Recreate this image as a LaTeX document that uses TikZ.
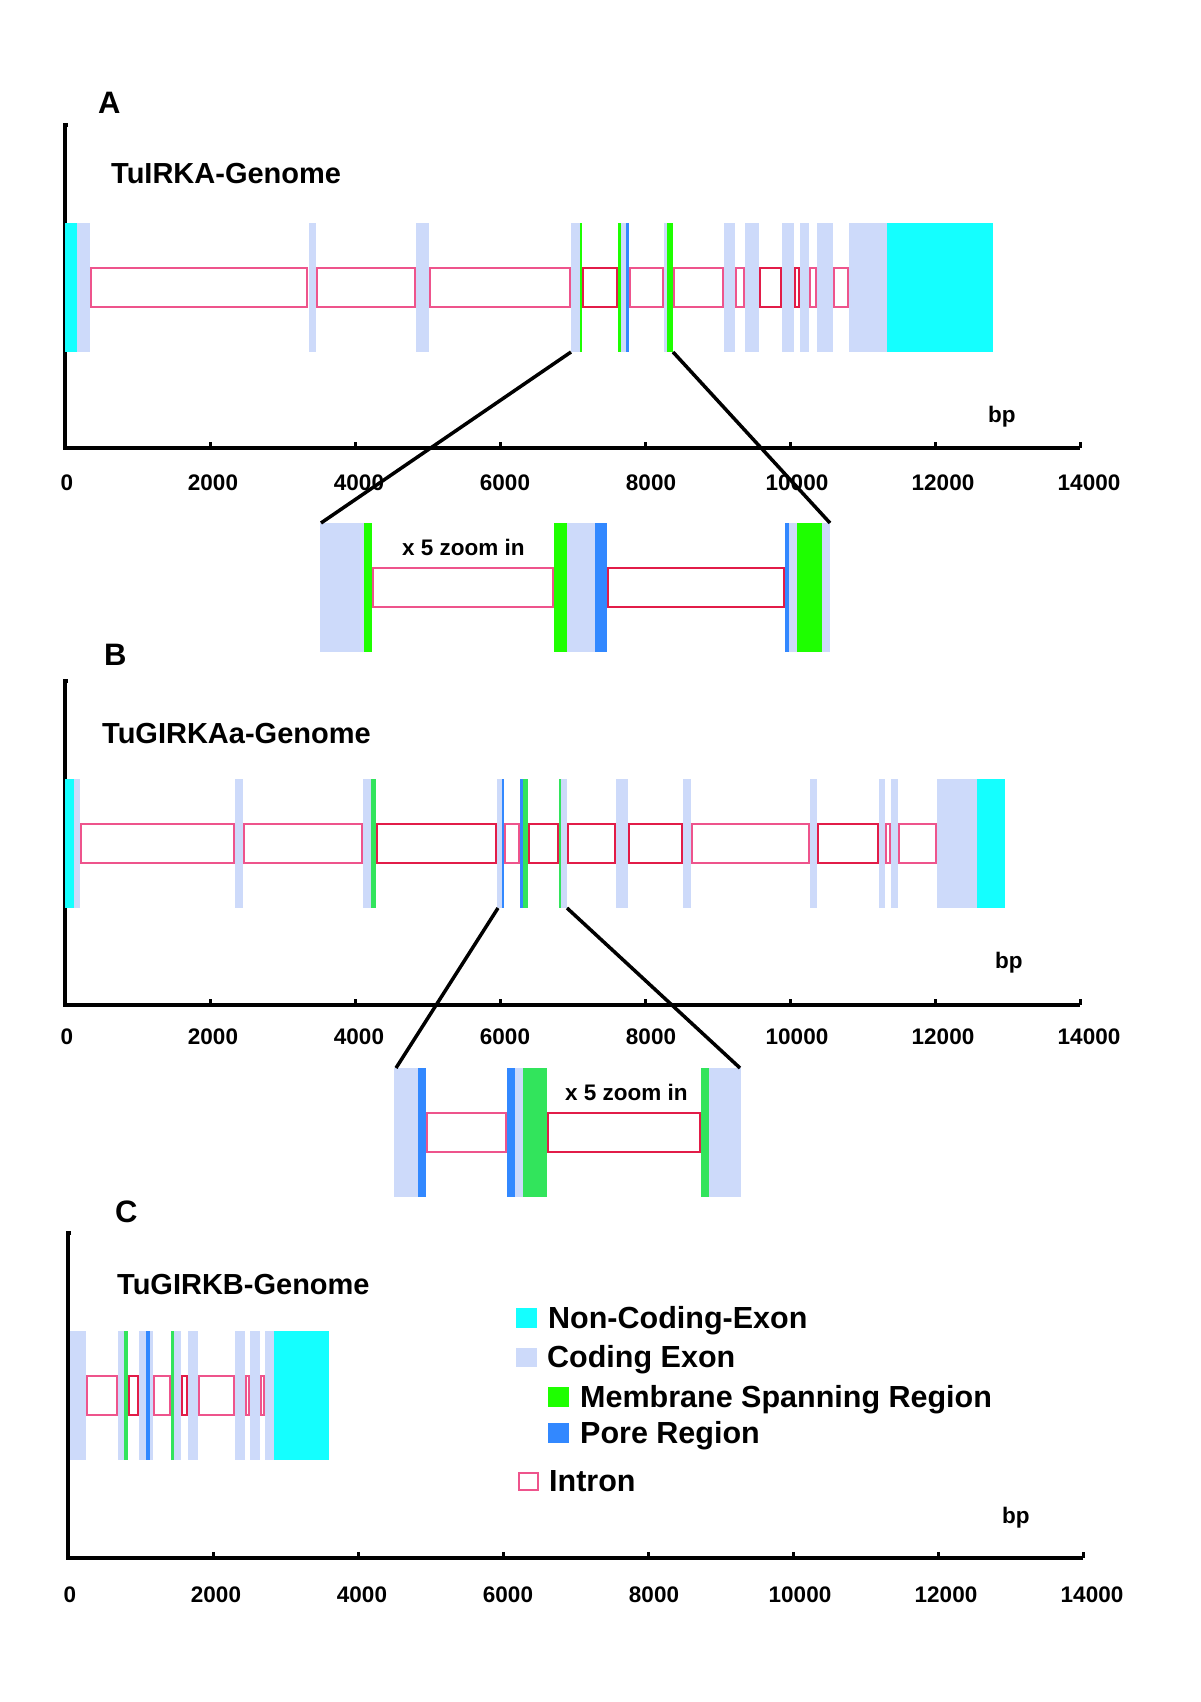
\documentclass[tikz,border=0pt]{standalone}
\usepackage{fontspec}
\setmainfont{Liberation Sans}
\definecolor{ncx}{RGB}{20,255,255}
\definecolor{cdx}{RGB}{205,218,250}
\definecolor{msr}{RGB}{30,255,0}
\definecolor{msrb}{RGB}{50,228,92}
\definecolor{pore}{RGB}{50,136,255}
\definecolor{intc}{RGB}{238,84,140}
\definecolor{intd}{RGB}{226,28,72}
\tikzset{axis/.style={line width=4pt},tk/.style={line width=3pt},zline/.style={line width=3.5pt},
  intr/.style={draw=intc,line width=2pt,fill=white},dk/.style={draw=intd},
  panel/.style={inner sep=0,anchor=base west,font=\fontsize{31}{36}\selectfont\bfseries},
  title/.style={inner sep=0,anchor=base west,font=\fontsize{29}{34}\selectfont\bfseries},
  leg/.style={inner sep=0,anchor=base west,font=\fontsize{30.5}{35}\selectfont\bfseries},
  num/.style={inner sep=0,anchor=base,font=\fontsize{22.5}{26}\selectfont\bfseries},
  small/.style={inner sep=0,anchor=base west,font=\fontsize{22.5}{26}\selectfont\bfseries}}
\newcommand{\ex}[3]{\fill[#1] (#2,0) rectangle (#3,129);}
\newcommand{\intron}[3][]{\draw[intr,#1] (#2+1,45) rectangle (#3-1,84);}
\newcommand{\bpaxis}[4]{\draw[axis] (#1+3,#2)--(#1,#2)--(#1,#3)--(#1+1015,#3);
  \foreach \k in {1,...,7}\draw[tk] (#1+145*\k,#3)--++(0,-6);
  \foreach \k/\v in {0/0,1/2000,2/4000,3/6000,4/8000,5/10000,6/12000,7/14000}\node[num] at (#1+2+146*\k,#4){\v};}

\begin{document}
\begin{tikzpicture}[x=1pt,y=-1pt]
\useasboundingbox[fill=white] (0,0) rectangle (1200,1702);
\node[panel] (pA) at (98,113){A};
\node[title] (tA) at (111,183){TuIRKA-Genome};
\bpaxis{65}{125}{448}{490}
\node[small] (bpA) at (988,422){bp};
\begin{scope}[shift={(0,223)}]
\ex{ncx}{65}{77}\ex{cdx}{77}{90}\intron{90}{308}\ex{cdx}{309}{316}\intron{316}{416}\ex{cdx}{416}{429}\intron{429}{571}
\ex{cdx}{571}{580}\ex{msr}{580}{582}\intron[dk]{582}{618}\ex{msr}{618}{621}\ex{cdx}{621}{626}\ex{pore}{626}{629}\intron{629}{664}
\ex{cdx}{664}{667}\ex{msr}{667}{673}\intron{673}{724}\ex{cdx}{724}{735}\intron{735}{745}\ex{cdx}{745}{759}\intron[dk]{759}{782}
\ex{cdx}{782}{794}\intron[dk]{794}{800}\ex{cdx}{800}{809}\intron{809}{817}\ex{cdx}{817}{833}\intron{833}{849}\ex{cdx}{849}{887}\ex{ncx}{887}{993}
\end{scope}
\begin{scope}[shift={(0,523)}]
\ex{cdx}{320}{364}\ex{msr}{364}{372}\intron{372}{554}\ex{msr}{554}{567}\ex{cdx}{567}{595}\ex{pore}{595}{607}\intron[dk]{607}{785}
\ex{pore}{785}{789}\ex{cdx}{789}{797}\ex{msr}{797}{822}\ex{cdx}{822}{830}
\end{scope}
\node[small] (zA) at (402,555){x 5 zoom in};
\coordinate (aL) at (571,352);\coordinate (aLz) at (321,523);
\coordinate (aR) at (673,352);\coordinate (aRz) at (830,523);
\draw[zline] (aL)--(aLz);\draw[zline] (aR)--(aRz);

\node[panel] (pB) at (104,665){B};
\node[title] (tB) at (102,743){TuGIRKAa-Genome};
\bpaxis{65}{681}{1005}{1044}
\node[small] (bpB) at (995,968){bp};
\begin{scope}[shift={(0,779)}]
\ex{ncx}{65}{74}\ex{cdx}{74}{80}\intron{80}{235}\ex{cdx}{235}{243}\intron{243}{363}\ex{cdx}{363}{371}\ex{msrb}{371}{376}\intron[dk]{376}{497}
\ex{cdx}{497}{502}\ex{pore}{502}{504}\intron{504}{520}\ex{pore}{520}{523}\ex{msrb}{523}{528}\intron[dk]{528}{559}\ex{msrb}{559}{561}\ex{cdx}{561}{567}
\intron[dk]{567}{616}\ex{cdx}{616}{628}\intron[dk]{628}{683}\ex{cdx}{683}{691}\intron{691}{810}\ex{cdx}{810}{817}\intron[dk]{817}{879}
\ex{cdx}{879}{885}\intron{885}{891}\ex{cdx}{891}{898}\intron{898}{937}\ex{cdx}{937}{977}\ex{ncx}{977}{1005}
\end{scope}
\begin{scope}[shift={(0,1068)}]
\ex{cdx}{394}{418}\ex{pore}{418}{426}\intron{426}{507}\ex{pore}{507}{515}\ex{cdx}{515}{523}\ex{msrb}{523}{547}\intron[dk]{547}{701}
\ex{msrb}{701}{709}\ex{cdx}{709}{741}
\end{scope}
\node[small] (zB) at (565,1100){x 5 zoom in};
\coordinate (bL) at (498,908);\coordinate (bLz) at (396,1068);
\coordinate (bR) at (567,908);\coordinate (bRz) at (740,1068);
\draw[zline] (bL)--(bLz);\draw[zline] (bR)--(bRz);

\node[panel] (pC) at (115,1222){C};
\node[title] (tC) at (117,1294){TuGIRKB-Genome};
\bpaxis{68}{1233}{1558}{1602}
\node[small] (bpC) at (1002,1523){bp};
\begin{scope}[shift={(0,1331)}]
\ex{cdx}{70}{86}\intron{86}{118}\ex{cdx}{118}{124}\ex{msrb}{124}{128}\intron[dk]{128}{139}\ex{cdx}{139}{146}\ex{pore}{146}{150}\ex{cdx}{150}{153}
\intron{153}{171}\ex{msrb}{171}{174}\ex{cdx}{174}{181}\intron[dk]{181}{188}\ex{cdx}{188}{198}\intron{198}{235}\ex{cdx}{235}{245}\intron{245}{250}
\ex{cdx}{250}{260}\intron{260}{265}\ex{cdx}{265}{274}\ex{ncx}{274}{329}
\end{scope}

\fill[ncx] (516,1308) rectangle (537,1328);\node[leg] (lNC) at (548,1328){Non-Coding-Exon};
\fill[cdx] (516,1348) rectangle (537,1367);\node[leg] (lCE) at (547,1367){Coding Exon};
\fill[msr] (548,1387) rectangle (569,1407);\node[leg] (lMS) at (580,1407){Membrane Spanning Region};
\fill[pore] (548,1423) rectangle (569,1443);\node[leg] (lPR) at (580,1443){Pore Region};
\draw[intr] (519,1473) rectangle (538,1490);\node[leg] (lIN) at (549,1491){Intron};
\end{tikzpicture}
\end{document}
